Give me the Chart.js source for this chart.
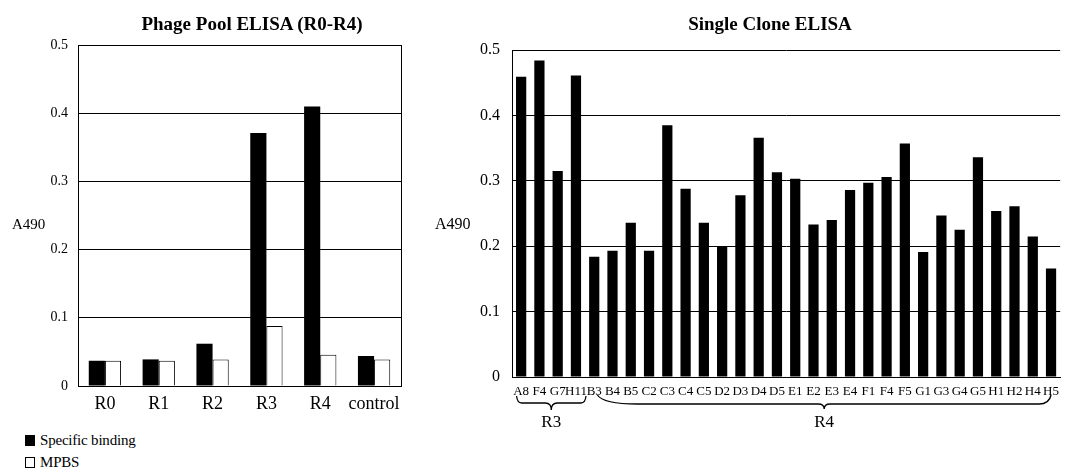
<!DOCTYPE html>
<html>
<head>
<meta charset="utf-8">
<script src="https://cdn.jsdelivr.net/npm/chart.js@4.4.1/dist/chart.umd.min.js"></script>
<style>
  html, body { margin: 0; padding: 0; background: #ffffff; }
  #wrap { position: relative; width: 1066px; height: 472px; overflow: hidden; background: #fff;
          font-family: "Liberation Serif", "Times New Roman", serif; color: #000; }
  canvas { position: absolute; top: 0; }
  #c1 { left: 0; }
  #c2 { left: 400px; }
  .title { position: absolute; font-weight: bold; font-size: 19px; line-height: 19px; white-space: nowrap; transform: translateX(-50%); }
  .ytitle { position: absolute; white-space: nowrap; }
  .leg { position: absolute; left: 25px; font-size: 15px; line-height: 16px; white-space: nowrap; letter-spacing: -0.2px; }
  .sw { display: inline-block; width: 10px; height: 11px; box-sizing: border-box; vertical-align: -1px; margin-right: 5px; }
</style>
</head>
<body>
<div id="wrap">
  <canvas id="c1" width="420" height="420"></canvas>
  <canvas id="c2" width="666" height="472"></canvas>
  <div class="title" style="left:252px; top:14px;">Phage Pool ELISA (R0-R4)</div>
  <div class="title" style="left:770px; top:14px;">Single Clone ELISA</div>
  <div class="ytitle" style="left:12px; top:216px; font-size:15px;">A490</div>
  <div class="ytitle" style="left:435px; top:215px; font-size:16px;">A490</div>
  <div class="leg" style="top:432px;"><span class="sw" style="background:#000;"></span>Specific binding</div>
  <div class="leg" style="top:454px;"><span class="sw" style="background:#fff;border:1px solid #000;"></span>MPBS</div>
</div>
<script>
// ---------- data ----------
const poolCategories = ['R0', 'R1', 'R2', 'R3', 'R4', 'control'];
const specificBinding = [0.037, 0.039, 0.062, 0.371, 0.410, 0.044];
const mpbs = [0.037, 0.037, 0.039, 0.088, 0.046, 0.039];

const cloneLabels = ['A8','F4','G7','H11','B3','B4','B5','C2','C3','C4','C5','D2','D3','D4','D5',
                     'E1','E2','E3','E4','F1','F4','F5','G1','G3','G4','G5','H1','H2','H4','H5'];
const cloneValues = [0.459, 0.484, 0.315, 0.461, 0.184, 0.193, 0.236, 0.193, 0.385, 0.288, 0.236,
                     0.200, 0.278, 0.366, 0.313, 0.303, 0.233, 0.240, 0.286, 0.297, 0.306, 0.357,
                     0.191, 0.247, 0.225, 0.336, 0.254, 0.261, 0.215, 0.166];
const cloneGroupNames = ['R3', 'R4'];
const cloneGroupFirst = [0, 4];
const cloneGroupLast = [3, 29];

const yMin = 0, yMax = 0.5, yStep = 0.1;

// ---------- shared ----------
const SERIF = '"Liberation Serif", "Times New Roman", serif';
Chart.defaults.font.family = SERIF;
Chart.defaults.color = '#000';
Chart.defaults.animation = false;

const rightFrame = {
  id: 'rightFrame',
  afterDraw(chart) {
    const a = chart.chartArea, ctx = chart.ctx;
    ctx.save();
    ctx.strokeStyle = '#000'; ctx.lineWidth = 1;
    ctx.beginPath();
    ctx.moveTo(Math.round(a.right) + 0.5, a.top);
    ctx.lineTo(Math.round(a.right) + 0.5, a.bottom);
    ctx.stroke();
    ctx.restore();
  }
};

function yScale(fontSize, width, pad) {
  return {
    min: yMin, max: yMax,
    ticks: { stepSize: yStep, font: { size: fontSize }, color: '#000', padding: pad,
             callback: v => (Math.round(v * 10) / 10).toString() },
    grid: { color: '#000', lineWidth: 1, drawTicks: false },
    border: { display: true, color: '#000', width: 1 },
    afterFit(s) { s.width = width; }
  };
}

// ---------- left chart ----------
new Chart(document.getElementById('c1'), {
  type: 'bar',
  data: {
    labels: poolCategories,
    datasets: [
      { label: 'Specific binding', data: specificBinding, backgroundColor: '#000', borderColor: '#000', borderWidth: 0 },
      { label: 'MPBS', data: mpbs, backgroundColor: '#fff', borderColor: '#000', borderWidth: 1 }
    ]
  },
  options: {
    responsive: false,
    layout: { padding: { top: 45, right: 19, left: 0, bottom: 4 } },
    datasets: { bar: { categoryPercentage: 0.6, barPercentage: 1.0 } },
    plugins: { legend: { display: false }, title: { display: false }, tooltip: { enabled: false } },
    scales: {
      x: {
        ticks: { font: { size: 18 }, color: '#000', padding: 7, maxRotation: 0, autoSkip: false },
        grid: { display: false, drawTicks: false },
        border: { display: true, color: '#000', width: 1 },
        afterFit(s) { s.height = 30; }
      },
      y: yScale(14, 78, 10)
    }
  },
  plugins: [rightFrame]
});

// ---------- right chart ----------
const groupBraces = {
  id: 'groupBraces',
  afterDraw(chart) {
    const x = chart.scales.x, ctx = chart.ctx;
    const w = x.width / cloneLabels.length;
    ctx.save();
    ctx.strokeStyle = '#000'; ctx.lineWidth = 1.3; ctx.fillStyle = '#000';
    ctx.font = '17px ' + SERIF; ctx.textAlign = 'center'; ctx.textBaseline = 'middle';
    cloneGroupNames.forEach((name, g) => {
      const first = cloneGroupFirst[g], last = cloneGroupLast[g];
      let x1, x2, rL, rR, yTop, yMid, yTip;
      if (g === 0) {
        x1 = x.getPixelForValue(first) - 0.25 * w; x2 = x.getPixelForValue(last) + 0.55 * w;
        rL = 5; rR = 5; yTop = 396; yMid = 403; yTip = 410;
      } else {
        x1 = x.getPixelForValue(first) + 0.17 * w; x2 = x.getPixelForValue(last);
        rL = 40; rR = 12; yTop = 395; yMid = 404; yTip = 409;
      }
      const xm = (x1 + x2) / 2, rc = 6;
      ctx.beginPath();
      ctx.moveTo(x1, yTop);
      ctx.quadraticCurveTo(x1 + rL * 0.15, yMid, x1 + rL, yMid);
      ctx.lineTo(xm - rc, yMid);
      ctx.quadraticCurveTo(xm, yMid, xm, yTip);
      ctx.quadraticCurveTo(xm, yMid, xm + rc, yMid);
      ctx.lineTo(x2 - rR, yMid);
      ctx.quadraticCurveTo(x2 - rR * 0.15, yMid, x2, yTop);
      ctx.stroke();
      ctx.fillText(name, xm, 423);
    });
    ctx.restore();
  }
};

new Chart(document.getElementById('c2'), {
  type: 'bar',
  data: {
    labels: cloneLabels,
    datasets: [{ label: 'Single clone', data: cloneValues, backgroundColor: '#000', borderWidth: 0 }]
  },
  options: {
    responsive: false,
    layout: { padding: { top: 50, right: 1, left: 0, bottom: 75 } },
    datasets: { bar: { categoryPercentage: 1.0, barPercentage: 0.56 } },
    plugins: { legend: { display: false }, title: { display: false }, tooltip: { enabled: false } },
    scales: {
      x: {
        ticks: { font: { size: 13 }, color: '#000', padding: 7, maxRotation: 0, autoSkip: false },
        grid: { display: false, drawTicks: false },
        border: { display: true, color: '#000', width: 1 },
        afterFit(s) { s.height = 20; }
      },
      y: yScale(16, 112, 12)
    }
  },
  plugins: [groupBraces]
});
</script>
</body>
</html>
